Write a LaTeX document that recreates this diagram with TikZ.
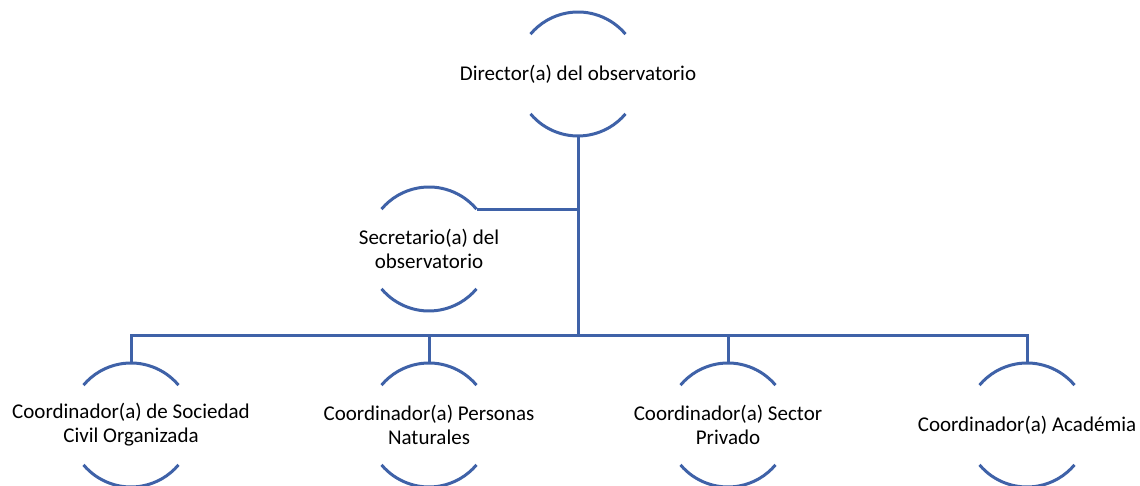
\documentclass[tikz,border=0pt]{standalone}
\usepackage{fontspec}
\setmainfont{Carlito}
\definecolor{orgblue}{RGB}{63,98,168}
\newcommand\arcpair[1]{%
  \draw[orgline] ([shift={(40:62)}]#1.center) arc[start angle=40,end angle=140,radius=62];
  \draw[orgline] ([shift={(220:62)}]#1.center) arc[start angle=220,end angle=320,radius=62];}
\begin{document}
\begin{tikzpicture}[x=1pt,y=1pt,
  orgline/.style={draw=orgblue,line width=3pt},
  role/.style={inner sep=0pt,align=center,font=\fontsize{21}{24}\selectfont,text=black}]
\useasboundingbox (0,0) rectangle (1140,486);
\node[role] (dir) at (578,412) {Director(a) del observatorio};
\node[role] (sec) at (429,237) {Secretario(a) del\\observatorio};
\node[role] (c1) at (131,61) {Coordinador(a) de Sociedad\\Civil Organizada};
\node[role] (c2) at (429,61) {Coordinador(a) Personas\\Naturales};
\node[role] (c3) at (728,61) {Coordinador(a) Sector\\Privado};
\node[role] (c4) at (1027,61) {Coordinador(a) Académia};
\arcpair{dir}\arcpair{sec}\arcpair{c1}\arcpair{c2}\arcpair{c3}\arcpair{c4}
\coordinate (dirb) at ([yshift=-62pt]dir.center);
\coordinate (sece) at ([shift={(40:62)}]sec.center);
\coordinate (bus) at (578,150.5);
\foreach \n in {c1,c2,c3,c4}{\coordinate (\n t) at ([yshift=62pt]\n.center);}
\draw[orgline] (dirb) -- (bus);
\draw[orgline] (sece) -- (sece -| dirb);
\draw[orgline] (c1t) |- (bus) -| (c4t);
\draw[orgline] (c2t) -- (c2t |- bus);
\draw[orgline] (c3t) -- (c3t |- bus);
\end{tikzpicture}
\end{document}
